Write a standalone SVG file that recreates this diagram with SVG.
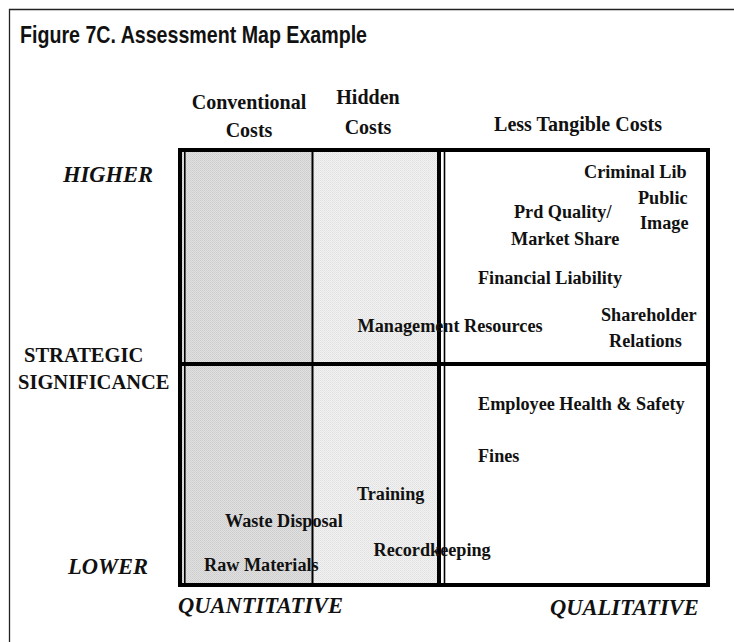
<svg xmlns="http://www.w3.org/2000/svg" width="734" height="642" viewBox="0 0 734 642">
<defs>
<pattern id="dotDark" width="2" height="2" patternUnits="userSpaceOnUse">
<rect width="2" height="2" fill="#e0e0e0"/>
<rect width="1" height="1" fill="#cdcdcd"/>
<rect x="1" y="1" width="1" height="1" fill="#d2d2d2"/>
</pattern>
<pattern id="dotLight" width="2" height="2" patternUnits="userSpaceOnUse">
<rect width="2" height="2" fill="#f2f2f2"/>
<rect width="1" height="1" fill="#e0e0e0"/>
<rect x="1" y="1" width="1" height="1" fill="#e6e6e6"/>
</pattern>
</defs>
<style>
.title{font-family:"Liberation Sans",Arial,sans-serif;font-weight:bold;font-size:24px;fill:#111}
.hdr{font-family:"Liberation Serif","Times New Roman",serif;font-weight:bold;font-size:20px;fill:#111;text-anchor:middle}
.axis{font-family:"Liberation Serif","Times New Roman",serif;font-weight:bold;font-size:20.5px;fill:#111}
.ital{font-family:"Liberation Serif","Times New Roman",serif;font-weight:bold;font-style:italic;font-size:22.5px;fill:#111}
.lbl{font-family:"Liberation Serif","Times New Roman",serif;font-weight:bold;font-size:18.2px;fill:#111}
.thick{stroke:#000;stroke-width:4;fill:none}
.thin{stroke:#000;stroke-width:1.6;fill:none}
</style>
<rect width="734" height="642" fill="#fff"/>
<path d="M9.5 642 V9.5 H734" fill="none" stroke="#222" stroke-width="1.3"/>
<text class="title" x="20" y="43" textLength="347" lengthAdjust="spacingAndGlyphs">Figure 7C. Assessment Map Example</text>

<g id="headers">
<text class="hdr" x="249" y="109">Conventional</text>
<text class="hdr" x="249" y="137">Costs</text>
<text class="hdr" x="368" y="104">Hidden</text>
<text class="hdr" x="368" y="134">Costs</text>
<text class="hdr" x="578" y="131">Less Tangible Costs</text>
</g>

<g id="axis-labels">
<text class="ital" x="63" y="182">HIGHER</text>
<text class="axis" x="24" y="362">STRATEGIC</text>
<text class="axis" x="18" y="389">SIGNIFICANCE</text>
<text class="ital" x="68" y="574">LOWER</text>
<text class="ital" x="178" y="613">QUANTITATIVE</text>
<text class="ital" x="550" y="615">QUALITATIVE</text>
</g>

<g id="grid">
<rect x="182" y="152" width="130" height="431" fill="url(#dotDark)"/>
<rect x="313" y="152" width="124" height="431" fill="url(#dotLight)"/>
<line class="thin" x1="184.8" y1="152" x2="184.8" y2="583"/>
<line x1="312.5" y1="152" x2="312.5" y2="583" stroke="#000" stroke-width="2"/>
<line class="thick" x1="439" y1="150" x2="439" y2="585"/>
<line class="thin" x1="444.5" y1="150" x2="444.5" y2="585"/>
<line class="thick" x1="178" y1="364" x2="710" y2="364"/>
<rect class="thick" x="180" y="150" width="528" height="435"/>
</g>

<g id="items">
<text class="lbl" x="584" y="178">Criminal Lib</text>
<text class="lbl" x="638" y="204">Public</text>
<text class="lbl" x="640" y="229">Image</text>
<text class="lbl" x="514" y="218">Prd Quality/</text>
<text class="lbl" x="511" y="245">Market Share</text>
<text class="lbl" x="478" y="283.5">Financial Liability</text>
<text class="lbl" x="357.5" y="332">Management Resources</text>
<text class="lbl" x="601" y="321">Shareholder</text>
<text class="lbl" x="609" y="347">Relations</text>
<text class="lbl" x="478" y="410">Employee Health &amp; Safety</text>
<text class="lbl" x="478" y="461.5">Fines</text>
<text class="lbl" x="357" y="499.5">Training</text>
<text class="lbl" x="225" y="527">Waste Disposal</text>
<text class="lbl" x="373.5" y="556">Recordkeeping</text>
<text class="lbl" x="204" y="571">Raw Materials</text>
</g>
</svg>
